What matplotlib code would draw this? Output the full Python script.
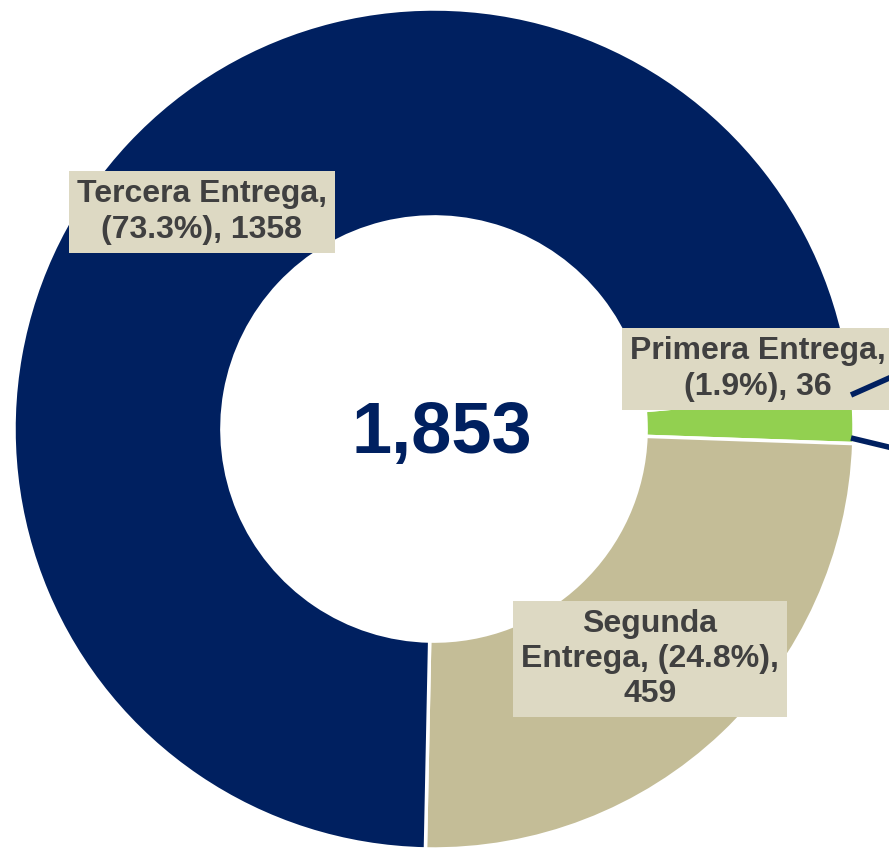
import matplotlib.pyplot as plt

# ======================
# Data
# ======================
categories = ["Primera Entrega", "Segunda Entrega", "Tercera Entrega"]
values = [36, 459, 1358]
colors = ["#92D050", "#C4BD97", "#002060"]

total = sum(values)
pcts = [v / total * 100 for v in values]

# ======================
# Figure (pixel-ish layout: centre 434,429, radius 420)
# ======================
W, H = 889, 849
CX, CY, R = 434, 429, 420

def px(x, y):
    # pixel position -> data units
    return (x - CX) / R, (CY - y) / R

plt.rcParams["font.family"] = ["Liberation Sans", "DejaVu Sans"]

fig = plt.figure(figsize=(W / 100, H / 100), dpi=100)
ax = fig.add_axes([0, 0, 1, 1])

ax.pie(values, colors=colors, startangle=5.0, counterclock=False, radius=1.0,
       wedgeprops=dict(width=0.495, edgecolor="white", linewidth=2.5))

# pie() resets the limits, so set them afterwards
ax.set_aspect("auto")
ax.set_xlim((0 - CX) / R, (W - CX) / R)
ax.set_ylim((CY - H) / R, CY / R)
ax.axis("off")

# leader lines that run off the right edge
for (x0, y0), (x1, y1) in [((851, 395), (905, 371)), ((851, 438), (905, 451))]:
    a, b = px(x0, y0)
    c, d = px(x1, y1)
    ax.plot([a, c], [b, d], color="#002060", lw=4, solid_capstyle="butt", zorder=5)

# data labels
label_texts = [
    f"Primera Entrega,\n({pcts[0]:.1f}%), {values[0]}",
    f"Segunda\nEntrega, ({pcts[1]:.1f}%),\n{values[1]}",
    f"Tercera Entrega,\n({pcts[2]:.1f}%), {values[2]}",
]
label_pos = [(758, 369), (650, 659), (202, 212)]

for txt, (lx, ly) in zip(label_texts, label_pos):
    x, y = px(lx, ly)
    ax.text(x, y, txt, ha="center", va="center", fontsize=23, fontweight="bold",
            color="#404040", linespacing=1.22, zorder=4,
            bbox=dict(boxstyle="square,pad=0.25", fc="#DDD9C3", ec="none"))

# total in the centre
cx, cy = px(442, 434)
ax.text(cx, cy, f"{total:,}", ha="center", va="center", fontsize=52,
        fontweight="bold", color="#002060")

fig.savefig("out.png", dpi=100)
